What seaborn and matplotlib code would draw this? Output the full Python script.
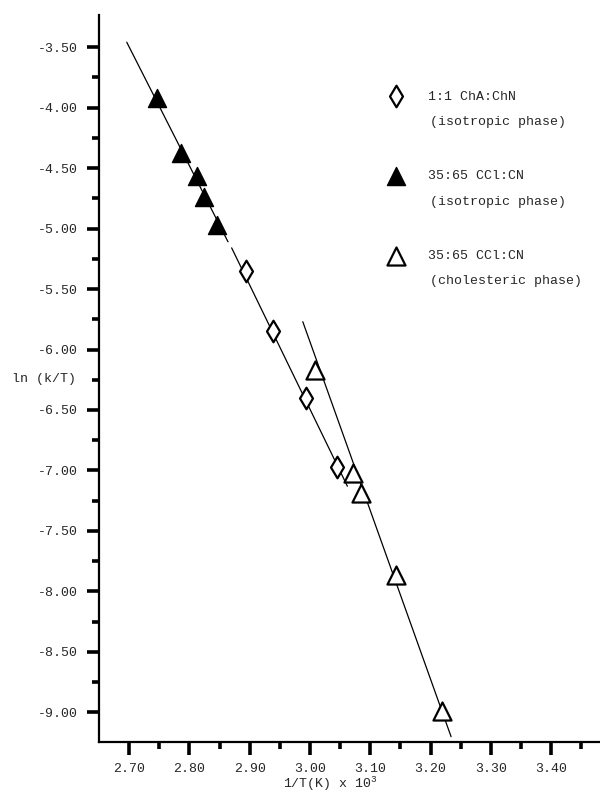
"""
Arrhenius-type plot of ln(k/T) against 1/T for the three mixtures.
"""

import matplotlib

matplotlib.use("Agg")
import matplotlib.pyplot as plt
import seaborn as sns
from matplotlib.ticker import FixedLocator, FormatStrFormatter

# 1:1 ChA:ChN, isotropic phase (open diamonds)
cha_x = [2.893, 2.938, 2.993, 3.045]
cha_y = [-5.35, -5.85, -6.40, -6.97]

# 35:65 CCl:CN, isotropic phase (filled triangles)
cc_iso_x = [2.746, 2.786, 2.812, 2.824, 2.845]
cc_iso_y = [-3.92, -4.38, -4.57, -4.74, -4.97]

# 35:65 CCl:CN, cholesteric phase (open triangles)
cc_chol_x = [3.009, 3.072, 3.084, 3.143, 3.219]
cc_chol_y = [-6.17, -7.02, -7.19, -7.86, -8.99]

# fitted lines, end points
fit_iso_cc_x = [2.696, 2.864]
fit_iso_cc_y = [-3.46, -5.11]
fit_iso_cha_x = [2.870, 3.062]
fit_iso_cha_y = [-5.16, -7.13]
fit_chol_x = [2.988, 3.234]
fit_chol_y = [-5.77, -9.20]

legend_main = ["1:1 ChA:ChN", "35:65 CCl:CN", "35:65 CCl:CN"]
legend_sub = ["(isotropic phase)", "(isotropic phase)", "(cholesteric phase)"]

x_major = [2.70, 2.80, 2.90, 3.00, 3.10, 3.20, 3.30, 3.40]
x_minor = [2.75, 2.85, 2.95, 3.05, 3.15, 3.25, 3.35, 3.45]
y_major = [-9.0, -8.5, -8.0, -7.5, -7.0, -6.5, -6.0, -5.5, -5.0, -4.5, -4.0, -3.5]
y_minor = [-8.75, -8.25, -7.75, -7.25, -6.75, -6.25, -5.75, -5.25, -4.75,
           -4.25, -3.75]

sns.set_theme(style="ticks")
plt.rcParams["font.family"] = ["Liberation Mono", "DejaVu Sans"]
plt.rcParams["mathtext.fontset"] = "custom"
plt.rcParams["mathtext.rm"] = "Liberation Mono"
plt.rcParams["mathtext.it"] = "Liberation Mono"

fig = plt.figure(figsize=(6.0, 7.94), dpi=100)
ax = fig.add_axes([0.165, 0.0655, 0.835, 0.9155])

# regression lines
for lx, ly in [(fit_iso_cc_x, fit_iso_cc_y),
               (fit_iso_cha_x, fit_iso_cha_y),
               (fit_chol_x, fit_chol_y)]:
    sns.lineplot(x=lx, y=ly, color="black", linewidth=0.9, ax=ax)

sns.scatterplot(x=cha_x, y=cha_y, marker="d", s=121, color="white",
                edgecolor="black", linewidth=1.6, label=legend_main[0],
                zorder=3, ax=ax)
sns.scatterplot(x=cc_iso_x, y=cc_iso_y, marker="^", s=169, color="black",
                edgecolor="black", linewidth=1.0, label=legend_main[1],
                zorder=3, ax=ax)
sns.scatterplot(x=cc_chol_x, y=cc_chol_y, marker="^", s=169, color="white",
                edgecolor="black", linewidth=1.6, label=legend_main[2],
                zorder=3, ax=ax)

ax.set_xlim(2.65, 3.481)
ax.set_ylim(-9.244, -3.236)

ax.xaxis.set_major_locator(FixedLocator(x_major))
ax.xaxis.set_minor_locator(FixedLocator(x_minor))
ax.yaxis.set_major_locator(FixedLocator(y_major))
ax.yaxis.set_minor_locator(FixedLocator(y_minor))
ax.xaxis.set_major_formatter(FormatStrFormatter("%.2f"))
ax.yaxis.set_major_formatter(FormatStrFormatter("%.2f"))

ax.tick_params(which="major", direction="out", length=9, width=2.6,
               color="black", labelsize=9.5, pad=6)
ax.tick_params(which="minor", direction="out", length=5, width=2.6,
               color="black")

sns.despine(ax=ax)
for side in ["left", "bottom"]:
    ax.spines[side].set_linewidth(1.6)
    ax.spines[side].set_color("black")

ax.set_xlabel(r"1/T(K) x 10$^3$", fontsize=9.5, va="center")
ax.xaxis.set_label_coords(0.461, -0.057)
ax.set_ylabel("ln (k/T)", fontsize=9.5, rotation=0, ha="left", va="center")
ax.yaxis.set_label_coords(-0.174, 0.5)

leg = ax.legend(loc="upper left", bbox_to_anchor=(0.566, 0.896),
                frameon=False, borderpad=0, borderaxespad=0,
                handlelength=2.0, handletextpad=1.45, labelspacing=5.1,
                fontsize=9.5, scatterpoints=1)

# second line of each legend entry, hung below the first line
fig.canvas.draw()
for txt, sub in zip(leg.get_texts(), legend_sub):
    ax.annotate(sub, xy=(0, 0), xycoords=txt, xytext=(1.5, -9.5),
                textcoords="offset points", va="top", fontsize=9.5,
                zorder=6)

fig.savefig("out.png", dpi=100)
plt.close(fig)
